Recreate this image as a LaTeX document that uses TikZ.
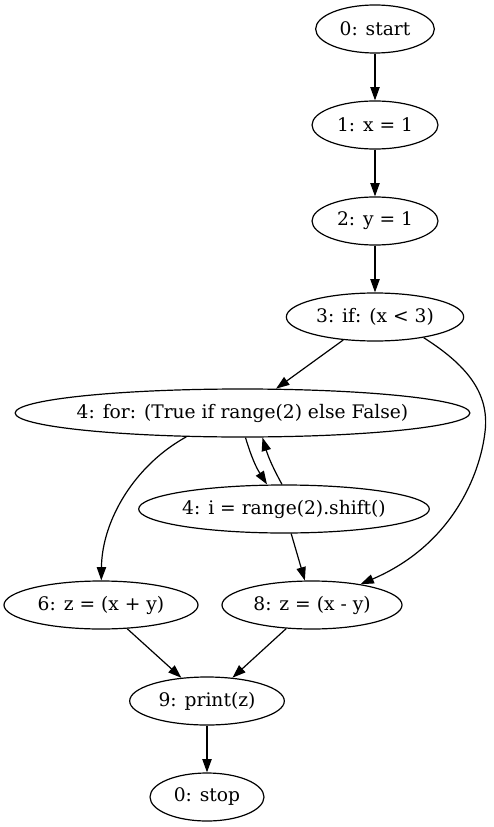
\documentclass[tikz,border=0pt]{standalone}
\usepackage{fontspec}
\setmainfont{DejaVu Serif}
\usetikzlibrary{shapes.geometric,arrows.meta,calc}
\tikzset{
  gvnode/.style={draw, ellipse, inner sep=0pt, line width=0.9pt, minimum height=36pt, font=\fontsize{14pt}{16pt}\selectfont},
  gvedge/.style={draw, line width=0.9pt, -{Triangle[length=10pt,width=7pt]}}
}
\newcommand{\lbl}[1]{\makebox[0pt]{#1}}
\begin{document}
\begin{tikzpicture}[x=0.75pt,y=-0.75pt]
\useasboundingbox (0,0) rectangle (493,827);
\node[gvnode, minimum width=89pt] (n0) at (375,29) {\lbl{0: start}};
\node[gvnode, minimum width=94.5pt] (n1) at (375,125) {\lbl{1: x = 1}};
\node[gvnode, minimum width=94.5pt] (n2) at (375,221) {\lbl{2: y = 1}};
\node[gvnode, minimum width=133pt] (n3) at (375,317) {\lbl{3: if: (x < 3)}};
\node[gvnode, minimum width=341pt] (n4f) at (242.5,413) {\lbl{4: for: (True if range(2) else False)}};
\node[gvnode, minimum width=218pt] (n4i) at (284,509) {\lbl{4: i = range(2).shift()}};
\node[gvnode, minimum width=145.5pt] (n6) at (101,605) {\lbl{6: z = (x + y)}};
\node[gvnode, minimum width=135pt] (n8) at (312,605) {\lbl{8: z = (x - y)}};
\node[gvnode, minimum width=116pt] (n9) at (207,701) {\lbl{9: print(z)}};
\node[gvnode, minimum width=85.5pt] (nstop) at (207,797) {\lbl{0: stop}};

\draw[gvedge] (n0) -- (n1);
\draw[gvedge] (n1) -- (n2);
\draw[gvedge] (n2) -- (n3);
\draw[gvedge] (n3) -- (n4f);
\draw[gvedge] (n3.-23.6) .. controls (465,364) and (490,392) .. (485,432)
                   .. controls (480,475) and (452,545) .. (n8);
\draw[gvedge] (n4f.203.4) .. controls (135,465) and (102,520) .. (n6);
\draw[gvedge] ($(n4f.south)+(3,0)$) to[bend right=8] ($(n4i.north)+(-17,0)$);
\draw[gvedge] ($(n4i.north)+(-2,0)$) to[bend left=6] ($(n4f.south)+(20,0)$);
\draw[gvedge] (n4i) -- (n8);
\draw[gvedge] (n6) -- (n9);
\draw[gvedge] (n8) -- (n9);
\draw[gvedge] (n9) -- (nstop);
\end{tikzpicture}
\end{document}
